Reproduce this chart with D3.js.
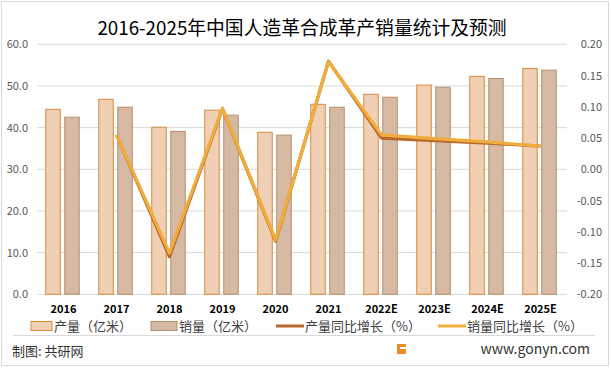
<!DOCTYPE html>
<html><head><meta charset="utf-8">
<script src="https://cdn.jsdelivr.net/npm/d3@7"></script>
<style>body{margin:0;background:#fff}svg{display:block}</style>
</head><body>
<svg id="c" width="611" height="372"></svg>
<script>
const categories = ["2016","2017","2018","2019","2020","2021","2022E","2023E","2024E","2025E"];
const production = [44.4,46.8,40.1,44.2,38.9,45.6,48.0,50.2,52.3,54.2];
const sales = [42.5,44.9,39.1,43.0,38.2,44.9,47.3,49.7,51.8,53.8];
const prodGrowth = [null,0.055,-0.140,0.097,-0.115,0.173,0.050,0.046,0.042,0.037];
const salesGrowth = [null,0.055,-0.134,0.098,-0.113,0.172,0.055,0.049,0.044,0.037];
const leftTicks = [0,10,20,30,40,50,60];
const rightTicks = [-0.20,-0.15,-0.10,-0.05,0,0.05,0.10,0.15,0.20];
const seriesNames = ["产量（亿米）","销量（亿米）","产量同比增长（%）","销量同比增长（%）"];
const title = "2016-2025年中国人造革合成革产销量统计及预测";

const svg = d3.select("#c");
const W=611,H=372;
const L=37,R=567,T=44.3,B=294.3;
const font = "'Microsoft YaHei','Noto Sans CJK SC','Noto Sans',sans-serif";

svg.append("rect").attr("x",1.5).attr("y",1.5).attr("width",W-4).attr("height",H-8)
  .attr("fill","#fff").attr("stroke","#d9d9d9");

const x = d3.scaleBand().domain(categories).range([L,R]);
const y = d3.scaleLinear().domain([0,60]).range([B,T]);
const y2 = d3.scaleLinear().domain([-0.2,0.2]).range([B,T]);

// grid
svg.append("g").selectAll("line").data(leftTicks).join("line")
  .attr("x1",L).attr("x2",R).attr("y1",d=>y(d)).attr("y2",d=>y(d))
  .attr("stroke","#d9d9d9").attr("stroke-width",1);

// left axis
const ax = svg.append("g").attr("transform",`translate(${L-9},0)`)
  .call(d3.axisLeft(y).tickValues(leftTicks).tickFormat(d3.format(".1f")).tickSize(0));
ax.select(".domain").remove();
ax.selectAll("text").attr("font-family",font).attr("font-size",11).attr("fill","#595959").attr("dx",0).attr("x",0);

// right axis
const ax2 = svg.append("g").attr("transform",`translate(602,0)`)
  .call(d3.axisLeft(y2).tickValues(rightTicks).tickFormat(d3.format(".2f")).tickSize(0));
ax2.select(".domain").remove();
ax2.selectAll("text").attr("font-family",font).attr("font-size",11).attr("fill","#595959").attr("x",0)
  .text(d=>d3.format(".2f")(d).replace("−","-"));

// x labels
const ax3 = svg.append("g").attr("transform",`translate(0,${B+7})`)
  .call(d3.axisBottom(x).tickSize(0));
ax3.select(".domain").remove();
ax3.selectAll("text").attr("font-family",font).attr("font-size",11).attr("font-weight","bold").attr("fill","#000").attr("dy","0.75em");

// bars
const bw = 14.5, gap = 4.5;
const bars = svg.append("g");
bars.selectAll(".p").data(categories).join("rect")
  .attr("x",(d,i)=>x(d)+x.bandwidth()/2-gap/2-bw-1)
  .attr("y",(d,i)=>y(production[i])).attr("width",bw)
  .attr("height",(d,i)=>B-y(production[i]))
  .attr("fill","#f0d0b4").attr("stroke","#d9893f").attr("stroke-width",1);
bars.selectAll(".s").data(categories).join("rect")
  .attr("x",(d,i)=>x(d)+x.bandwidth()/2+gap/2-1)
  .attr("y",(d,i)=>y(sales[i])).attr("width",bw)
  .attr("height",(d,i)=>B-y(sales[i]))
  .attr("fill","#d6b9a2").attr("stroke","#b98c6b").attr("stroke-width",1);

// lines
const cx = d=>x(d)+x.bandwidth()/2;
const lineP = d3.line().defined(d=>d[1]!=null).x(d=>cx(d[0])).y(d=>y2(d[1]));
svg.append("path").datum(categories.map((c,i)=>[c,prodGrowth[i]]))
  .attr("d",lineP).attr("fill","none").attr("stroke","#b8692a").attr("stroke-width",3.2).attr("stroke-linejoin","round");
svg.append("path").datum(categories.map((c,i)=>[c,salesGrowth[i]]))
  .attr("d",lineP).attr("fill","none").attr("stroke","#f0ad3c").attr("stroke-width",3.2).attr("stroke-linejoin","round");

// title
svg.append("text").attr("x",302).attr("y",34.5).attr("text-anchor","middle")
  .attr("font-family",font).attr("font-size",18.8).attr("fill","#000").text(title);

// legend
const lg = svg.append("g").attr("font-family",font).attr("font-size",13).attr("fill","#404040");
const ly = 326;
lg.append("rect").attr("x",31).attr("y",ly-4.5).attr("width",21).attr("height",9).attr("fill","#f0d0b4").attr("stroke","#d9893f");
lg.append("text").attr("x",54).attr("y",ly).attr("dy","0.35em").text(seriesNames[0]);
lg.append("rect").attr("x",151).attr("y",ly-4.5).attr("width",26).attr("height",9).attr("fill","#d6b9a2").attr("stroke","#b98c6b");
lg.append("text").attr("x",179).attr("y",ly).attr("dy","0.35em").text(seriesNames[1]);
lg.append("line").attr("x1",276).attr("x2",304).attr("y1",ly).attr("y2",ly).attr("stroke","#b8692a").attr("stroke-width",3);
lg.append("text").attr("x",305).attr("y",ly).attr("dy","0.35em").text(seriesNames[2]);
lg.append("line").attr("x1",438).attr("x2",466).attr("y1",ly).attr("y2",ly).attr("stroke","#f0ad3c").attr("stroke-width",3);
lg.append("text").attr("x",467).attr("y",ly).attr("dy","0.35em").text(seriesNames[3]);

// footer
svg.append("line").attr("x1",13).attr("x2",595).attr("y1",335.5).attr("y2",335.5).attr("stroke","#d9d9d9");
svg.append("text").attr("x",12).attr("y",351).attr("dy","0.35em").attr("font-family",font).attr("font-size",13).attr("fill","#333").text("制图: 共研网");
const lgx=397, lgy=344;
svg.append("rect").attr("x",lgx).attr("y",lgy).attr("width",9).attr("height",10).attr("fill","#f08a24").attr("rx",1);
svg.append("rect").attr("x",lgx+3).attr("y",lgy+3).attr("width",6).attr("height",2).attr("fill","#fff");
svg.append("text").attr("x",590).attr("y",349).attr("dy","0.35em").attr("text-anchor","end").attr("font-family",font).attr("font-size",14).attr("fill","#333").text("www.gonyn.com");
</script>
</body></html>
